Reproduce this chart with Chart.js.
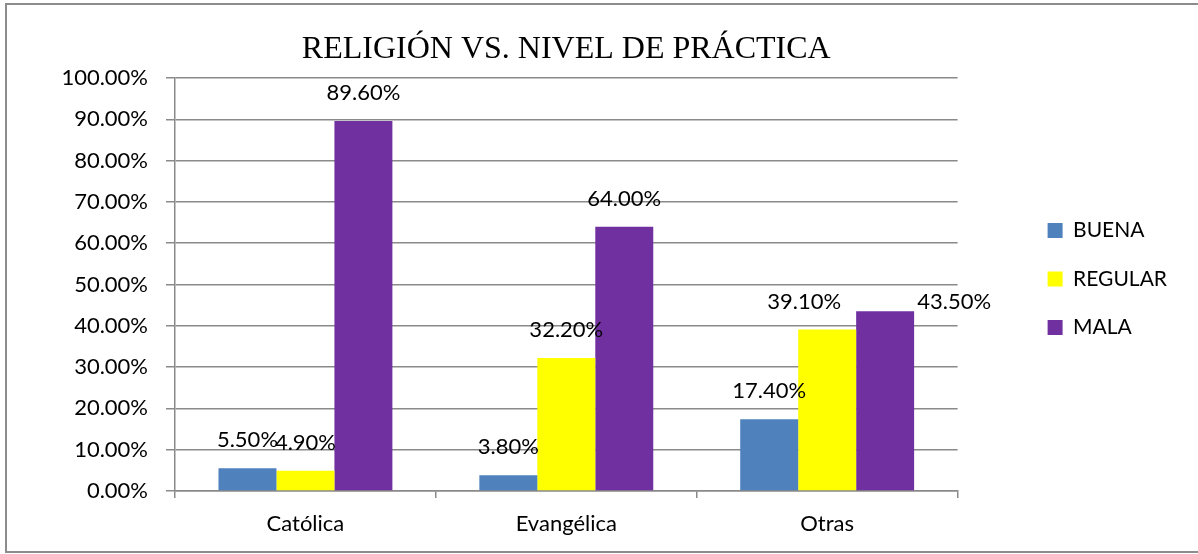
<!DOCTYPE html>
<html>
<head>
<meta charset="utf-8">
<title>Religión vs. nivel de práctica</title>
<script src="https://cdn.jsdelivr.net/npm/chart.js@4.4.1/dist/chart.umd.min.js"></script>
<style>
  html, body { margin: 0; padding: 0; background: #fff; overflow: hidden; }
  #wrap { position: relative; width: 1198px; height: 554px; }
  #wrap canvas { position: absolute; left: 0; top: 0; }
  /* grey frame round the chart (open on the right) */
  #frame {
    position: absolute; left: 5px; top: 3px; width: 1200px; height: 550px;
    box-sizing: border-box; border: 2px solid #8c8c8c; border-right: none;
    pointer-events: none;
  }
</style>
</head>
<body>
<div id="wrap">
  <canvas id="chart" width="1198" height="554"></canvas>
  <div id="frame"></div>
</div>
<script>
/* ================= DATA ================= */
const CATEGORIES = ["Católica", "Evangélica", "Otras"];
const SERIES = ["BUENA", "REGULAR", "MALA"];
const BUENA = [5.5, 3.8, 17.4];
const REGULAR = [4.9, 32.2, 39.1];
const MALA = [89.6, 64.0, 43.5];

/* ================= STYLE ================= */
const COLORS = ["#4F81BD", "#FFFF00", "#7030A0"];
const GRID = "#8a8a8a";
const LABEL_FONT = "22px Lato";

// hand-moved value labels, key = "category,series"
const LABEL_SHIFT = {
  "2,1": [-23, 0],
  "2,2": [69, 19]
};

Chart.defaults.font.family = "Lato";
Chart.defaults.color = "#000";

/* ================= VALUE LABELS ================= */
const barLabels = {
  id: "barLabels",
  afterDatasetsDraw(chart) {
    const { ctx } = chart;
    ctx.save();
    ctx.font = LABEL_FONT;
    ctx.fillStyle = "#000";
    ctx.textAlign = "center";
    ctx.textBaseline = "middle";
    chart.data.datasets.forEach((ds, d) => {
      chart.getDatasetMeta(d).data.forEach((bar, i) => {
        const shift = LABEL_SHIFT[i + "," + d] || [0, 0];
        ctx.fillText(ds.data[i].toFixed(2) + "%", bar.x + shift[0], bar.y - 28 + shift[1]);
      });
    });
    ctx.restore();
  }
};

/* ================= CHART ================= */
const values = [BUENA, REGULAR, MALA];

new Chart(document.getElementById("chart"), {
  type: "bar",
  data: {
    labels: CATEGORIES,
    datasets: SERIES.map((name, k) => ({
      label: name,
      data: values[k],
      backgroundColor: COLORS[k],
      borderWidth: 0,
      categoryPercentage: 2 / 3,
      barPercentage: 1
    }))
  },
  options: {
    responsive: false,
    animation: false,
    layout: { padding: { top: 4, right: 21, bottom: 0, left: 0 } },
    plugins: {
      title: {
        display: true,
        text: "RELIGIÓN VS. NIVEL DE PRÁCTICA",
        fullSize: false,
        color: "#000",
        font: { family: "Liberation Serif", size: 32, weight: "normal" },
        padding: { top: 26, bottom: 9.6 }
      },
      legend: {
        position: "right",
        labels: {
          boxWidth: 15,
          boxHeight: 15,
          padding: 27.5,
          color: "#000",
          font: { size: 21 }
        }
      },
      tooltip: { enabled: false }
    },
    scales: {
      x: {
        ticks: { padding: 13, font: { size: 22 } },
        grid: { drawOnChartArea: false, color: GRID, lineWidth: 1.5, tickLength: 7 },
        border: { color: GRID, width: 1.5 },
        afterFit(scale) { scale.height = 63; }
      },
      y: {
        min: 0,
        max: 100,
        ticks: {
          stepSize: 10,
          padding: 18,
          font: { size: 22 },
          callback: (v) => v.toFixed(2) + "%"
        },
        grid: { color: GRID, lineWidth: 1.5, tickLength: 9 },
        border: { color: GRID, width: 1.5 },
        afterFit(scale) { scale.width = 175; }
      },
      // empty strip that keeps the legend away from the plot
      gap: {
        type: "linear",
        position: "right",
        ticks: { display: false },
        grid: { display: false },
        border: { display: false },
        afterFit(scale) { scale.width = 62.5; }
      }
    }
  },
  plugins: [barLabels]
});
</script>
</body>
</html>
